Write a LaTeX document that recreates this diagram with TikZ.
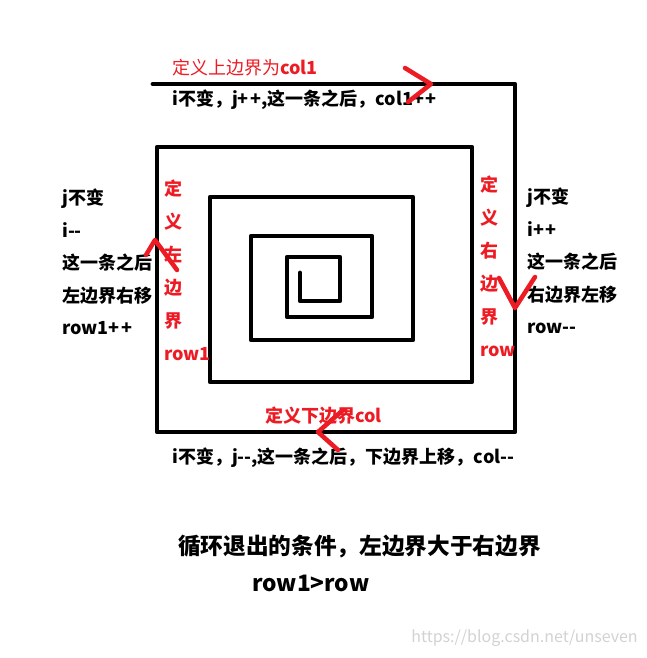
\documentclass[tikz,border=0pt]{standalone}
\usepackage{fontspec}
\setmainfont{Noto Sans CJK SC}
\usepackage{xcolor}
\usetikzlibrary{positioning}
\definecolor{paintred}{RGB}{237,28,36}
\newcommand{\pp}{+\kern1.2pt+}

\begin{document}
\begin{tikzpicture}[x=0.75pt, y=-0.75pt, every node/.style={font=\fontsize{13.5}{24.4}\selectfont, inner sep=0pt},
  wall/.style={line width=3.6pt, line cap=round, line join=round},
  redmark/.style={paintred, line width=3.4pt, line cap=round, line join=round},
  note/.style={font=\bfseries\fontsize{13.5}{24.4}\selectfont, align=left},
  rednote/.style={paintred, font=\bfseries\fontsize{13.5}{24.7}\selectfont, align=left}]
\useasboundingbox (0,0) rectangle (647,658);

% the spiral
\draw[wall] (153,84) -- (515,84) -- (515,432) -- (157,432) -- (157,147) -- (472,147) -- (472,382)
  -- (210,382) -- (210,197) -- (413,197) -- (413,340) -- (251,340) -- (251,236) -- (372,236)
  -- (372,317) -- (287,317) -- (287,257) -- (340,257) -- (340,301) -- (300,301) -- (300,273);

% top edge
\node (toplabel) [anchor=west, paintred] at (172,68) {定义上边界为\textbf{col1}};
\node (toprule) [note, anchor=west] at (172,100) {i不变，j\pp,这一条之后，col1\pp};
\draw[redmark] (405,68) -- (431,84) -- (408,102);

% left edge
\node (leftrule) [note, anchor=west] at (62,262) {j不变\\i-{}-\\这一条之后\\左边界右移\\row1\pp};
\node (leftlabel) [rednote, anchor=west] at (164,270) {定\\义\\左\\边\\界\\row1};
\draw[redmark] (146,255) -- (155,240) -- (177,270);

% right edge
\node (rightlabel) [rednote, anchor=west] at (480,266) {定\\义\\右\\边\\界\\row};
\node (rightrule) [note, anchor=west] at (527,261) {j不变\\i\pp\\这一条之后\\右边界左移\\row-{}-};
\draw[redmark] (499,278) -- (515,308) -- (535,277);

% bottom edge
\node (bottomlabel) [rednote, anchor=west] at (265,416) {定义下边界col};
\node (bottomrule) [note, anchor=west] at (172,458) {i不变，j-{}-,这一条之后，下边界上移，col-{}-};
\draw[redmark] (343,410) -- (318,432) -- (338,450);

% exit condition
\node (exitrule) [anchor=west, font=\bfseries\fontsize{17}{20}\selectfont] at (178,547) {循环退出的条件，左边界大于右边界};
\node (exitcmp) [anchor=west, font=\bfseries\fontsize{17}{20}\selectfont] at (252,583) {row1>row};
\node (mark) [anchor=east, gray!35, font=\fontsize{12}{14}\selectfont] at (638,638) {https://blog.csdn.net/unseven};
\end{tikzpicture}
\end{document}
